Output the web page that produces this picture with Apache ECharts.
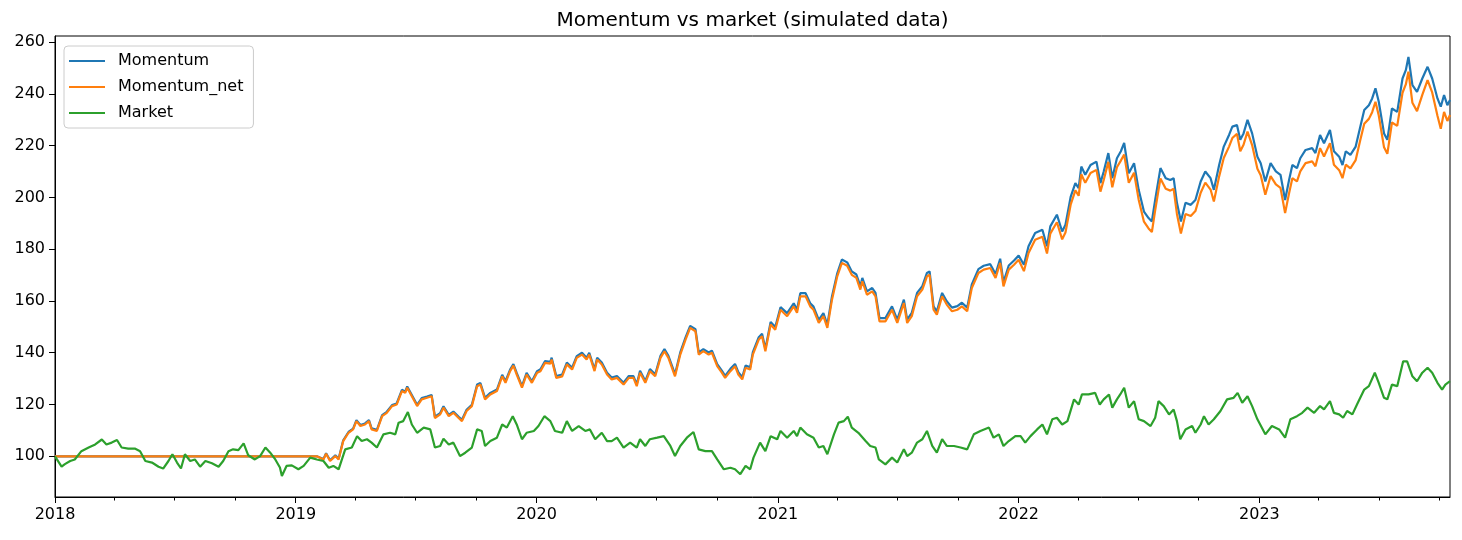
<!DOCTYPE html>
<html>
<head>
<meta charset="utf-8">
<title>Momentum vs market</title>
<script src="https://cdn.jsdelivr.net/npm/echarts@6.0.0/dist/echarts.min.js"></script>
<style>
  html, body { margin: 0; padding: 0; background: #fff; }
  #chart { width: 1462px; height: 540px; }
</style>
</head>
<body>
<div id="chart"></div>
<script>
// days since 2018-01-01
const startDate = Date.UTC(2018, 0, 1);

const momDays = [
  0, 397, 407, 411, 417, 425, 430, 437, 445, 452, 457, 463, 470, 476, 480, 488, 496, 503, 511, 518,
  526, 531, 534, 541, 549, 556, 564, 571, 576, 584, 589, 597, 604, 612, 617, 624, 632, 640, 645, 652,
  660, 670, 678, 683, 690, 695, 700, 708, 715, 723, 731,
  736, 743, 751, 753, 760, 769, 776, 784, 791, 799, 806, 810, 818, 822, 829, 837, 844, 852, 862, 870,
  877, 882, 887, 895, 902, 910, 918, 924, 930, 940, 948, 956, 963, 971, 976, 983, 991, 996, 1004, 1011,
  1016, 1024, 1031, 1036, 1042, 1047, 1054, 1058, 1067, 1072, 1077, 1085, 1092, 1100,
  1110, 1120, 1125, 1130, 1138, 1145, 1150, 1158, 1165, 1171, 1178, 1186, 1193, 1201, 1208, 1215, 1221, 1224, 1231, 1239,
  1244, 1250, 1259, 1269, 1277, 1287, 1292, 1299, 1307, 1315, 1322, 1326, 1332, 1337, 1345, 1352, 1360, 1368, 1375, 1383,
  1390, 1400, 1408, 1418, 1426, 1433, 1438, 1446, 1454, 1461,
  1469, 1476, 1486, 1497, 1504, 1509, 1519, 1527, 1532, 1540, 1547, 1552, 1556, 1562, 1570, 1579, 1585, 1590, 1597, 1603,
  1610, 1616, 1621, 1628, 1636, 1643, 1651, 1658, 1663, 1668, 1676, 1684, 1691, 1696, 1701, 1707, 1714, 1722, 1729, 1737,
  1744, 1752, 1757, 1765, 1772, 1780, 1785, 1792, 1797, 1802, 1808, 1815, 1823,
  1828, 1835, 1843, 1851, 1858, 1865, 1871, 1876, 1883, 1888, 1896, 1906, 1911, 1918, 1924, 1933, 1939, 1947, 1952, 1957,
  1964, 1972, 1979, 1985, 1992, 1997, 2002, 2007, 2015, 2020, 2027, 2035, 2043, 2048, 2052, 2058, 2065, 2073, 2081, 2088,
  2096, 2101, 2106, 2111, 2115
];

const momentum = [
  100, 100, 99.0, 101.2, 98.5, 100.4, 99.1, 106.2, 109.4, 110.7, 114, 112.1, 112.7, 114, 110.8, 110.2, 115.9, 117.2, 119.8, 120.4,
  125.7, 125, 127, 123.7, 119.9, 122.5, 123.1, 123.7, 115.3, 116.7, 119.3, 116, 117.3, 115.3, 114.1, 118, 119.9, 127.7, 128.3, 122.6,
  124.5, 125.8, 131.5, 129, 133.5, 135.6, 132.2, 127.1, 132.2, 129, 132.9,
  133.6, 136.8, 136.5, 138.1, 131, 131.6, 136.2, 134.2, 138.7, 140, 138.1, 140, 133.6, 138.1, 136.2, 132.3, 130.4, 131, 128.4, 131,
  131, 127.8, 133, 129.1, 133.7, 131.7, 138.8, 141.4, 138.8, 131.7, 140.1, 145.9, 150.4, 149.1, 140.1, 141.4, 140.1, 140.8, 135.6, 133.1,
  131.1, 133.8, 135.7, 132.5, 130.6, 135.1, 134.4, 140.2, 146, 147.3, 141.5, 151.9, 149.9, 157.6,
  155.3, 159.1, 156.6, 163, 163, 159.1, 157.8, 152.7, 155.3, 150.8, 161.7, 170.7, 176, 174.9, 171.4, 170.2, 165.7, 168.9, 163.7, 165,
  163.1, 153.4, 153.4, 157.9, 152.8, 160.5, 152.8, 155.4, 163.1, 165.7, 170.8, 171.4, 157.9, 156, 163.1, 159.9, 157.4, 158, 159.3, 157.4,
  166.4, 172.3, 173.6, 174.2, 170.4, 176.3, 167.2, 173.7, 175.6, 177.5,
  174, 181.1, 186.2, 187.5, 181.1, 188.8, 193.3, 186.8, 189.4, 200.3, 205.5, 203.6, 211.9, 208.7, 212.5, 213.8, 205.5, 210, 217.1, 207.4,
  215.1, 217.8, 221, 209.3, 213.2, 202.9, 194.5, 192, 190.7, 199, 211.3, 207.4, 206.7, 207.4, 197.9, 190.7, 197.9, 197.1, 199, 206.1,
  210, 207.4, 202.9, 212.5, 219.6, 224.1, 227.3, 227.9, 222.2, 224.7, 229.9, 224.7, 215.7,
  213.2, 206.1, 213.2, 210, 208.7, 199, 206.7, 212.5, 211.3, 215.1, 218.3, 219, 217.1, 224.1, 220.9, 226, 217.8, 215.7, 212.5, 217.8,
  216.4, 219.6, 227.3, 233.7, 235.6, 238.2, 242.1, 236.9, 224.7, 222.2, 234.3, 233, 245.9, 249.1, 254.2, 243.3, 240.7, 245.9, 250.4, 245.9,
  238.2, 235, 239.5, 235.6, 237.6
];

const momentumNet = [
  100, 100, 98.8, 101, 98.2, 100.1, 98.8, 105.9, 109.1, 110.4, 113.6, 111.7, 112.3, 113.6, 110.4, 109.8, 115.5, 116.8, 119.4, 120,
  125.2, 124.5, 126.5, 123.2, 119.4, 122, 122.6, 123.2, 114.8, 116.2, 118.8, 115.5, 116.8, 114.8, 113.6, 117.5, 119.4, 127.1, 127.7, 122,
  123.9, 125.2, 130.9, 128.4, 132.9, 135, 131.6, 126.5, 131.6, 128.4, 132.3,
  132.9, 136.1, 135.8, 137.4, 130.3, 130.9, 135.5, 133.5, 138, 139.3, 137.4, 139.3, 132.9, 137.4, 135.5, 131.6, 129.7, 130.3, 127.7, 130.3,
  130.3, 127.1, 132.3, 128.4, 132.9, 130.9, 138, 140.6, 138, 130.9, 139.3, 145.1, 149.6, 148.3, 139.3, 140.6, 139.3, 140, 134.8, 132.3,
  130.3, 132.9, 134.8, 131.6, 129.7, 134.2, 133.5, 139.3, 145.1, 146.4, 140.6, 150.9, 148.9, 156.6,
  154.1, 157.9, 155.4, 161.8, 161.8, 157.9, 156.6, 151.5, 154.1, 149.6, 160.5, 169.5, 174.7, 173.6, 170.1, 168.9, 164.4, 167.6, 162.4, 163.7,
  161.8, 152.1, 152.1, 156.6, 151.5, 159.2, 151.5, 154.1, 161.8, 164.4, 169.5, 170.1, 156.6, 154.7, 161.8, 158.6, 156, 156.6, 157.9, 156,
  165, 170.8, 172.1, 172.7, 168.9, 174.7, 165.6, 172.1, 174, 175.9,
  171.5, 178.5, 183.6, 184.8, 178.3, 186, 190.4, 183.8, 186.4, 197.3, 202.7, 200.6, 208.9, 205.6, 209.4, 210.6, 202.2, 206.7, 213.7, 203.9,
  211.6, 214.2, 216.5, 205.6, 209.5, 199.1, 190.6, 188, 186.6, 195, 207.3, 203.3, 202.6, 203.3, 193.6, 186, 193.6, 192.8, 194.7, 201.8,
  205.7, 203, 198.4, 208.1, 215.2, 219.6, 222.9, 224.5, 217.8, 220.3, 225.4, 220.2, 211,
  208.5, 201, 208.2, 205, 203.7, 193.9, 201.6, 207.4, 206.2, 210, 213.2, 213.9, 212, 219, 215.8, 220.9, 212.6, 210.5, 207.4, 212.6,
  211.2, 214.4, 222.1, 228.4, 230.3, 232.9, 236.9, 231.6, 219.3, 216.8, 228.9, 227.6, 240.4, 243.6, 248.5, 236.5, 233.3, 239.6, 245.3, 240.5,
  231.5, 226.5, 233, 229.5, 231.8
];

const marketDays = [
  0, 10, 15, 23, 30, 40, 51, 61, 71, 78, 86, 94, 101, 111, 121, 129, 137, 147, 157, 164,
  172, 178, 185, 191, 197, 205, 212, 220, 228, 238, 248, 255, 263, 270, 278, 286, 293, 303, 311, 319,
  326, 334, 341, 344, 351, 359, 369, 377, 387, 397, 407, 415, 422, 430, 440, 450, 458, 465, 473, 480,
  488, 498, 508, 516, 521, 528, 535, 541, 549, 559, 569, 576, 584, 589, 597, 604, 614, 622, 632, 640,
  647, 652, 660, 670, 678, 685, 694, 700, 708, 715, 726, 733, 742, 751, 758, 769, 776, 784, 794, 804,
  811, 819, 829, 837, 844, 852, 862, 872, 882, 887, 895, 902, 913, 923, 933, 940, 948, 958, 968, 976,
  986, 996, 1004, 1014, 1024, 1031, 1039, 1047, 1054, 1059, 1069, 1077, 1085, 1095, 1100, 1110, 1120, 1125, 1130, 1140,
  1150, 1158, 1165, 1171, 1181, 1188, 1196, 1202, 1208, 1218, 1229, 1236, 1244, 1249, 1259, 1269, 1277, 1287, 1292, 1299,
  1307, 1315, 1322, 1330, 1337, 1345, 1352, 1363, 1373, 1383, 1393, 1403, 1416, 1423, 1431, 1438, 1446, 1456, 1464, 1471,
  1479, 1489, 1497, 1504, 1512, 1519, 1527, 1535, 1545, 1552, 1557, 1567, 1577, 1584, 1590, 1598, 1603, 1610, 1615, 1621,
  1628, 1636, 1643, 1651, 1661, 1668, 1673, 1681, 1689, 1696, 1701, 1706, 1714, 1724, 1729, 1737, 1742, 1749, 1757, 1767,
  1777, 1787, 1793, 1800, 1808, 1815, 1823, 1835, 1845, 1856, 1865, 1873, 1883, 1891, 1899, 1909, 1918, 1924, 1933, 1939,
  1947, 1953, 1959, 1967, 1974, 1985, 1992, 2001, 2007, 2015, 2020, 2027, 2035, 2044, 2050, 2058, 2065, 2073, 2081, 2088,
  2096, 2103, 2108, 2115
];

const market = [
  100, 96, 97, 98.2, 98.8, 102, 103.4, 104.6, 106.5, 104.6, 105.3, 106.3, 103.4, 103, 103, 102, 98.2, 97.6, 96, 95.3,
  98.2, 100.8, 97.6, 95.3, 100.8, 98.2, 98.8, 96, 98.2, 97.3, 96, 98.2, 102, 102.7, 102.4, 105, 100.4, 98.8, 100.1, 103.4,
  101.5, 98.8, 95.7, 92.4, 96.3, 96.5, 95, 96.3, 99.5, 98.8, 98.2, 95.6, 96.3, 95, 102.7, 103.4, 107.8, 105.9, 106.6, 105.3,
  103.4, 108.5, 109.1, 108.5, 113, 113.6, 117.1, 112.3, 109.1, 111.1, 110.4, 103.4, 104, 106.8, 104.6, 105.3, 100.1, 101.4, 103.4, 110.4,
  109.8, 104, 105.9, 107.2, 112.3, 111.1, 115.5, 112.3, 106.6, 109.1, 109.8, 111.7, 115.5, 113.6, 109.8, 109.1, 113.6, 109.8, 111.7, 109.8,
  110.4, 106.6, 109.1, 105.9, 105.9, 107.2, 103.4, 105.3, 103.4, 106.6, 104, 106.6, 107.2, 107.8, 104, 100.1, 104, 107.2, 109.4, 102.7,
  102, 102, 98.8, 95, 95.6, 95, 93.1, 96.3, 95, 99.5, 105.3, 102, 107.8, 106.6, 109.8, 107.2, 109.8, 107.8, 111.1, 108.5,
  107.2, 103.4, 104, 100.8, 108.5, 113, 113.6, 115.3, 111.1, 109.1, 105.9, 104, 103.4, 98.8, 96.9, 99.5, 97.6, 102.7, 100.1, 101.4,
  105.3, 106.6, 109.8, 104, 101.4, 106.6, 104, 104, 103.4, 102.7, 108.5, 109.8, 111.1, 107.2, 108.5, 104, 105.9, 107.8, 107.8, 105.3,
  107.8, 110.4, 112.3, 108.5, 114.3, 114.9, 112.3, 113.6, 122, 120, 123.9, 123.9, 124.5, 120, 122, 123.9, 118.8, 122, 123.9, 126.5,
  118.8, 121.3, 114.3, 113.6, 111.7, 114.9, 121.3, 119.4, 116.2, 118.1, 113.6, 106.6, 110.4, 111.7, 109.1, 112.3, 115.5, 112.3, 114.3, 117.5,
  122, 122.6, 124.5, 120.7, 123.2, 119.4, 114.3, 108.5, 111.7, 110.4, 107.2, 114.3, 115.5, 116.8, 118.8, 116.8, 119.4, 118.1, 121.3, 116.8,
  116.2, 114.9, 117.5, 116.2, 120, 125.8, 127.1, 132.3, 128.4, 122.6, 122, 127.7, 127.1, 136.7, 136.7, 130.9, 129, 132.3, 134.2, 132.3,
  128.4, 125.8, 127.7, 129
];

const yTicks = [100, 120, 140, 160, 180, 200, 220, 240, 260];
const yearTicks = [2018, 2019, 2020, 2021, 2022, 2023];

const DAY = 86400000;
const toTime = d => startDate + d * DAY;
const pairs = (days, vals) => days.map((d, i) => [toTime(d), vals[i]]);

const endTime = toTime(momDays[momDays.length - 1]);
const majorTimes = yearTicks.map(y => Date.UTC(y, 0, 1));
const minorTimes = [];
yearTicks.forEach(y => {
  [3, 6, 9].forEach(m => minorTimes.push(Date.UTC(y, m, 1)));
});

const font = "DejaVu Sans";
const myChart = echarts.init(document.getElementById("chart"), null, { renderer: "canvas" });

let option = {
  animation: false,
  backgroundColor: "#fff",
  color: ["#1f77b4", "#ff7f0e", "#2ca02c"],
  graphic: [{
    type: "text",
    x: 752.5,
    y: 21,
    style: {
      text: "Momentum vs market (simulated data)",
      font: "20px " + font,
      fill: "#000",
      textAlign: "center",
      textVerticalAlign: "middle"
    }
  }],
  legend: {
    orient: "vertical",
    left: 64,
    top: 46,
    padding: [6, 10, 6, 5],
    itemGap: 8,
    itemWidth: 36,
    itemHeight: 2,
    icon: "rect",
    backgroundColor: "rgba(255,255,255,0.8)",
    borderColor: "#cccccc",
    borderWidth: 1,
    borderRadius: 4,
    textStyle: {
      fontFamily: font,
      fontSize: 16,
      color: "#000",
      lineHeight: 18,
      padding: [0, 0, 0, 8]
    },
    data: ["Momentum", "Momentum_net", "Market"]
  },
  grid: {
    left: 55,
    top: 36,
    width: 1395,
    height: 461,
    show: true,
    borderColor: "#000",
    borderWidth: 1,
    containLabel: false
  },
  xAxis: [{
    type: "value",
    min: startDate,
    max: endTime,
    scale: true,
    axisLine: { lineStyle: { color: "#000", width: 1 } },
    axisTick: { show: true, length: 6, lineStyle: { color: "#000" }, customValues: majorTimes },
    axisLabel: {
      customValues: majorTimes,
      formatter: v => String(new Date(v).getUTCFullYear()),
      fontFamily: font,
      fontSize: 16,
      color: "#000",
      margin: 10
    },
    splitLine: { show: false }
  }, {
    type: "value",
    min: startDate,
    max: endTime,
    scale: true,
    position: "bottom",
    axisLine: { show: false },
    axisTick: { show: true, length: 3.5, lineStyle: { color: "#000" }, customValues: minorTimes },
    axisLabel: { show: false },
    splitLine: { show: false }
  }],
  yAxis: {
    type: "value",
    min: 84.3,
    max: 262.3,
    axisLine: { show: true, lineStyle: { color: "#000", width: 1 } },
    axisTick: { show: true, length: 6, lineStyle: { color: "#000" }, customValues: yTicks },
    axisLabel: {
      customValues: yTicks,
      fontFamily: font,
      fontSize: 16,
      color: "#000",
      margin: 10
    },
    splitLine: { show: false }
  },
  series: [{
    name: "Momentum",
    type: "line",
    showSymbol: false,
    lineStyle: { width: 2.2 },
    data: pairs(momDays, momentum)
  }, {
    name: "Momentum_net",
    type: "line",
    showSymbol: false,
    lineStyle: { width: 2.2 },
    data: pairs(momDays, momentumNet)
  }, {
    name: "Market",
    type: "line",
    showSymbol: false,
    lineStyle: { width: 2.2 },
    data: pairs(marketDays, market)
  }]
};

myChart.setOption(option);
</script>
</body>
</html>
